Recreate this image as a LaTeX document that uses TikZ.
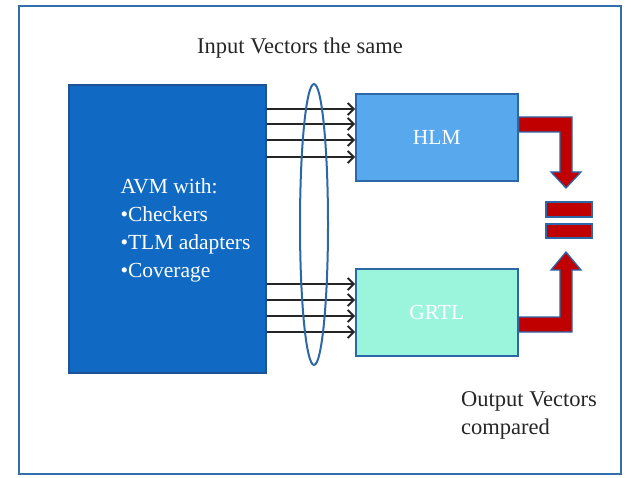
\documentclass[tikz,border=0pt]{standalone}
\usepackage{fontspec}
\setmainfont{Liberation Serif}
\usetikzlibrary{arrows.meta,shapes.geometric}
\definecolor{avmblue}{RGB}{16,106,196}
\definecolor{avmedge}{RGB}{30,82,150}
\definecolor{hlmblue}{RGB}{88,168,238}
\definecolor{grtlgreen}{RGB}{155,245,221}
\definecolor{edgeblue}{RGB}{44,104,168}
\definecolor{framecol}{RGB}{50,112,172}
\definecolor{cmpred}{RGB}{192,0,0}
\tikzset{
  block/.style={draw=edgeblue, line width=1.6pt, inner sep=0pt, anchor=north west},
  vec/.style={draw=black!85, line width=1.8pt, -{Straight Barb[length=6pt,width=12pt,line width=1.8pt]}},
  cmparrow/.style={fill=cmpred, draw=edgeblue, line width=1.3pt, line join=miter},
  caption/.style={font=\fontsize{22.5}{28}\selectfont, text=black!85, align=left, inner sep=0pt},
  boxlabel/.style={font=\fontsize{21.5}{28}\selectfont, text=white}
}
\begin{document}
\begin{tikzpicture}[x=1pt,y=-1pt]
\useasboundingbox (0,0) rectangle (631,478);
\fill[white] (0,0) rectangle (631,478);
% outer frame
\draw[framecol, line width=2pt] (19,6) rectangle (621,474);

% blocks
\node[block, fill=avmblue, draw=avmedge, minimum width=197pt, minimum height=288pt] (avm) at (68,84) {};
\node[block, fill=hlmblue, minimum width=162pt, minimum height=87pt] (hlm) at (355,93) {};
\node[block, fill=grtlgreen, minimum width=162pt, minimum height=87pt] (grtl) at (355,268) {};

\node[boxlabel] at (hlm.center) {HLM};
\node[boxlabel] at (grtl.center) {GRTL};
\node[boxlabel, align=left, anchor=west] (avmtext) at (117,230)
  {AVM with:\\{\textbullet}Checkers\\{\textbullet}TLM adapters\\{\textbullet}Coverage};

% input vectors
\foreach \y in {109,124,140,157}
  \draw[vec] (avm.east |- 0,\y) -- (hlm.west |- 0,\y);
\foreach \y in {284,300,316,332}
  \draw[vec] (avm.east |- 0,\y) -- (grtl.west |- 0,\y);

% grouping ellipse
\node[draw=edgeblue, line width=2pt, ellipse, minimum width=28pt, minimum height=281pt, inner sep=0pt] (grp) at (314,224.5) {};

% comparison arrows and equals sign
\draw[cmparrow] (hlm.east |- 0,117) -- (572,117) -- (572,172) -- (581,172) -- (566,188)
  -- (551,172) -- (560,172) -- (560,132) -- (hlm.east |- 0,132) -- cycle;
\draw[cmparrow] (grtl.east |- 0,332) -- (572,332) -- (572,270) -- (581,270) -- (566,252)
  -- (551,270) -- (560,270) -- (560,317) -- (grtl.east |- 0,317) -- cycle;
\draw[cmparrow] (546,202) rectangle (592,217);
\draw[cmparrow] (546,224) rectangle (592,238);

% captions
\node[caption, anchor=center] (intext) at (300,48) {Input Vectors the same};
\node[caption, anchor=north west] (outtext) at (461,391) {Output Vectors\\compared};
\end{tikzpicture}
\end{document}
